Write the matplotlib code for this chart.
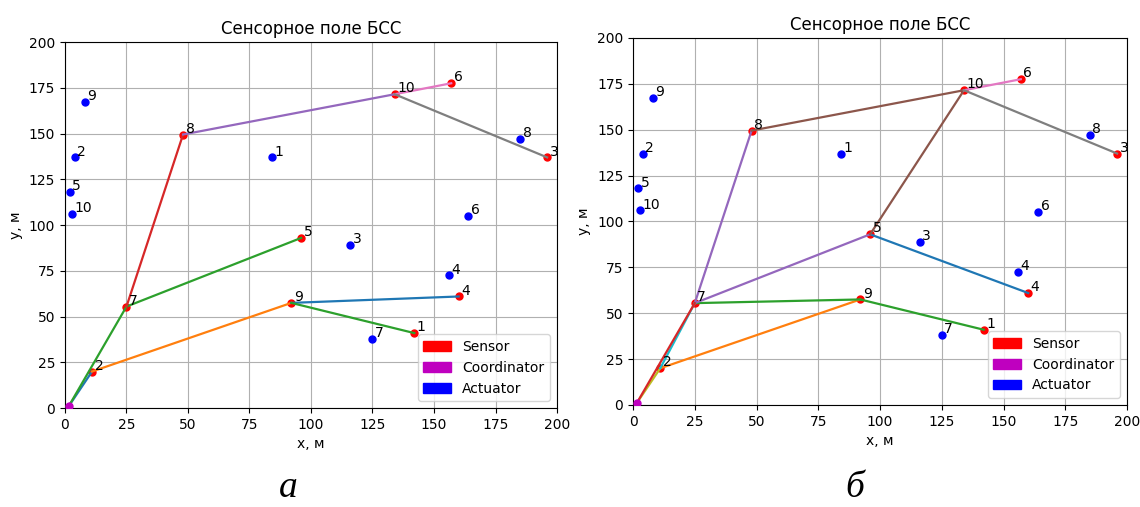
import matplotlib
matplotlib.use("Agg")
import matplotlib.pyplot as plt
import matplotlib.patches as mpatches

# sensors 1..10 (same field on both panels)
sensor_x = [142, 11, 196, 160, 96, 157, 25, 48, 92, 134]
sensor_y = [41, 20, 137, 61, 93, 177.5, 55.5, 149.5, 57.5, 171.5]

# actuators 1..10
act_x = [84, 4, 116, 156, 2, 164, 125, 185, 8, 3]
act_y = [137, 137, 89, 72.5, 118, 105, 38, 147, 167.5, 106]

coord_x = [1.5]
coord_y = [1]

# links between nodes, 0 = coordinator, n = sensor n
links_a = [(0, 2), (2, 9), (9, 4), (0, 7), (7, 5), (9, 1),
           (7, 8), (8, 10), (10, 6), (10, 3)]
colors_a = ['C0', 'C1', 'C0', 'C2', 'C2', 'C2',
            'C3', 'C4', 'C6', 'C7']

links_b = [(5, 4), (2, 9), (7, 9), (9, 1), (7, 5), (7, 8),
           (5, 10), (8, 10), (10, 6), (10, 3), (0, 2), (2, 7), (0, 7)]
colors_b = ['C0', 'C1', 'C2', 'C2', 'C4', 'C4',
            'C5', 'C5', 'C6', 'C7', 'C8', 'C9', 'C3']


def node_xy(n):
    if n == 0:
        return coord_x[0], coord_y[0]
    return sensor_x[n - 1], sensor_y[n - 1]


def draw_field(ax, links, colors):
    ax.plot(sensor_x, sensor_y, 'ro', markersize=5, zorder=2)
    for (a, b), c in zip(links, colors):
        xa, ya = node_xy(a)
        xb, yb = node_xy(b)
        ax.plot([xa, xb], [ya, yb], color=c, lw=1.6, zorder=2)
    ax.plot(act_x, act_y, 'bo', markersize=5, zorder=3)
    ax.plot(coord_x, coord_y, 'mo', markersize=5, zorder=3)
    for i in range(len(sensor_x)):
        ax.text(sensor_x[i] + 1, sensor_y[i] + 1, str(i + 1), fontsize=10)
    for i in range(len(act_x)):
        ax.text(act_x[i] + 1, act_y[i] + 1, str(i + 1), fontsize=10)
    ax.set_xlim(0, 200)
    ax.set_ylim(0, 200)
    ax.grid(True)
    ax.set_title('Сенсорное поле БСС')
    ax.set_xlabel('x, м')
    ax.set_ylabel('y, м')
    handles = [mpatches.Patch(color='r', label='Sensor'),
               mpatches.Patch(color='m', label='Coordinator'),
               mpatches.Patch(color='b', label='Actuator')]
    ax.legend(handles=handles, loc='lower right')


fig = plt.figure(figsize=(11.4, 5.07), dpi=100)
ax1 = fig.add_axes([0.057, 0.195, 0.4316, 0.722])
ax2 = fig.add_axes([0.5553, 0.2012, 0.4333, 0.724])

draw_field(ax1, links_a, colors_a)
draw_field(ax2, links_b, colors_b)

fig.text(0.2526, 0.02, 'а', family='Liberation Serif', style='italic',
         fontsize=27, ha='center', va='baseline')
fig.text(0.75, 0.02, 'б', family='Liberation Serif', style='italic',
         fontsize=27, ha='center', va='baseline')

fig.savefig('out.png', dpi=100)
